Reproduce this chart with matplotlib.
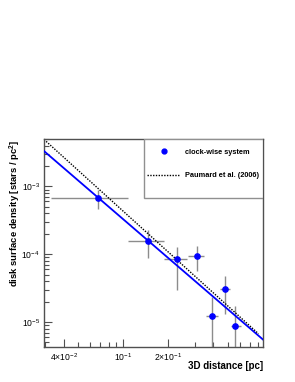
import numpy as np
import matplotlib.pyplot as plt
from matplotlib.patches import Rectangle
from matplotlib.lines import Line2D

plt.rcParams['font.family'] = ['Liberation Sans', 'DejaVu Sans']
plt.rcParams['mathtext.fontset'] = 'custom'
plt.rcParams['mathtext.rm'] = 'Liberation Sans'
plt.rcParams['mathtext.bf'] = 'Liberation Sans:bold'

# clock-wise system measurements
dist = [0.068, 0.147, 0.227, 0.31, 0.392, 0.479, 0.561]
dist_lo = [0.033, 0.108, 0.188, 0.272, 0.357, 0.443, 0.522]
dist_hi = [0.107, 0.187, 0.266, 0.348, 0.432, 0.517, 0.609]
dens = [6.7e-4, 1.57e-4, 8.4e-5, 9.35e-5, 1.24e-5, 3.05e-5, 8.6e-6]
dens_lo = [4.7e-4, 8.9e-5, 3.0e-5, 5.6e-5, 1e-6, 1.3e-5, 1e-6]
dens_hi = [8.9e-4, 2.3e-4, 1.27e-4, 1.34e-4, 2.33e-5, 4.7e-5, 1.72e-5]

# power-law fits: sigma = norm * r^slope
fit_norm, fit_slope = 4.12e-6, -1.9
paumard_norm, paumard_slope = 4.3e-6, -2.0

xmin, xmax = 0.0295, 0.86
ymin, ymax = 4.3e-6, 5.0e-3

fig = plt.figure(figsize=(2.95, 3.82), dpi=100)
ax = fig.add_axes([0.149, 0.092, 0.743, 0.544])

d = np.array(dist)
s = np.array(dens)
xerr = [d - np.array(dist_lo), np.array(dist_hi) - d]
yerr = [s - np.array(dens_lo), np.array(dens_hi) - s]
ax.errorbar(d, s, xerr=xerr, yerr=yerr, fmt='none', ecolor='#8c8c8c',
            elinewidth=1.0, capsize=0, zorder=2)
ax.plot(d, s, 'o', color='#0000ff', markersize=3.8, zorder=4)

r = np.array([xmin, xmax])
ax.plot(r, fit_norm * r ** fit_slope, color='#0000ff', lw=1.3, zorder=3)
r2 = np.array([0.0305, 0.80])
ax.plot(r2, paumard_norm * r2 ** paumard_slope, color='black', lw=1.0,
        linestyle=(0, (1, 1)), zorder=3)

ax.set_xscale('log')
ax.set_yscale('log')
ax.set_xlim(xmin, xmax)
ax.set_ylim(ymin, ymax)

ax.set_xticks([0.04, 0.1, 0.2])
ax.set_xticklabels([r'$4{\times}10^{-2}$', r'$10^{-1}$', r'$2{\times}10^{-1}$'])
ax.set_xticks([0.03, 0.05, 0.06, 0.07, 0.08, 0.09, 0.3, 0.4, 0.5, 0.6, 0.7, 0.8],
              minor=True)
ax.set_yticks([1e-5, 1e-4, 1e-3])
ax.set_yticklabels([r'$10^{-5}$', r'$10^{-4}$', r'$10^{-3}$'])

for sp in ax.spines.values():
    sp.set_color('#505050')
    sp.set_linewidth(1.0)
ax.tick_params(which='both', direction='in', colors='#505050', labelcolor='black',
               labelsize=6.2, top=False, right=False, width=0.8)
ax.tick_params(which='major', length=6)
ax.tick_params(which='minor', length=3.5)
ax.tick_params(axis='x', pad=3)
ax.tick_params(axis='y', pad=3)

ax.set_xlabel('3D distance [pc]', loc='right', fontsize=7, fontweight='bold', labelpad=-1)
ax.set_ylabel(r'disk surface density [stars / pc$^{\mathbf{2}}$]', loc='top',
              fontsize=6.8, fontweight='bold')
ax.yaxis.set_label_coords(-0.095, 1.0)

# legend box in the upper right corner
ax.add_patch(Rectangle((0.457, 0.718), 0.543, 0.282, transform=ax.transAxes,
                       fill=True, facecolor='white', edgecolor='#909090', lw=1.0,
                       zorder=5))
handles = [Line2D([], [], marker='o', color='#0000ff', linestyle='none', markersize=3.5),
           Line2D([], [], color='black', lw=1.0, linestyle=(0, (1, 1)))]
leg = ax.legend(handles, ['clock-wise system', 'Paumard et al. (2006)'],
                loc='upper left', bbox_to_anchor=(0.44, 0.985), frameon=False,
                prop={'size': 5.3, 'weight': 'bold'}, handlelength=4.5,
                handletextpad=0.6, labelspacing=2.2)
leg.set_zorder(6)

fig.savefig('out.png', dpi=100)
